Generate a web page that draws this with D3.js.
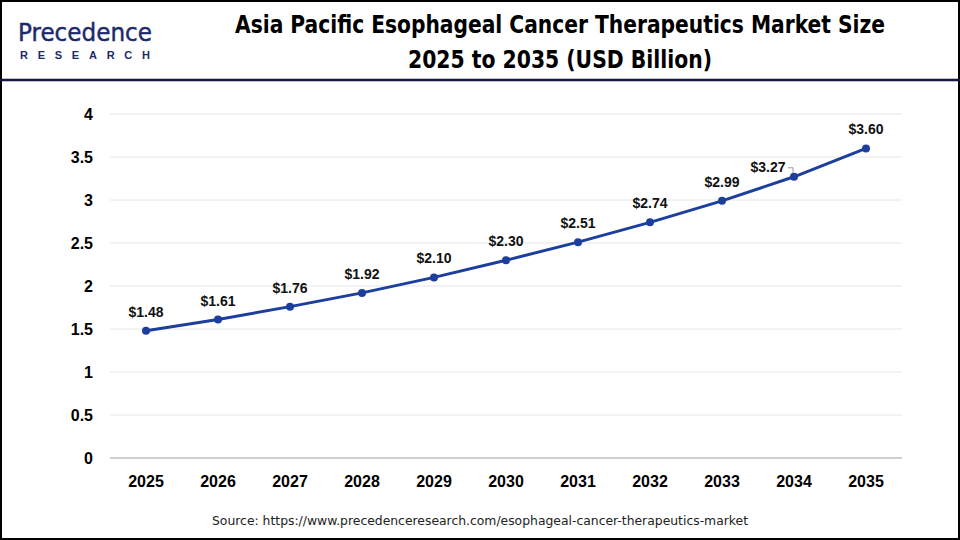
<!DOCTYPE html>
<html><head><meta charset="utf-8">
<script src="https://cdn.jsdelivr.net/npm/d3@7"></script>
<style>body{margin:0;background:#fff}svg{display:block}</style>
</head><body>
<svg id="c" width="960" height="540"></svg>
<script>
const years = ["2025","2026","2027","2028","2029","2030","2031","2032","2033","2034","2035"];
const values = [1.48,1.61,1.76,1.92,2.10,2.30,2.51,2.74,2.99,3.27,3.60];
const yTicks = [0,0.5,1,1.5,2,2.5,3,3.5,4];
const titleLines = ["Asia Pacific Esophageal Cancer Therapeutics Market Size","2025 to 2035 (USD Billion)"];
const titleWidths = [650,304];
const source = "Source: https://www.precedenceresearch.com/esophageal-cancer-therapeutics-market";

const svg = d3.select("#c");
svg.append("rect").attr("x",1).attr("y",1).attr("width",958).attr("height",538).attr("fill","#fff").attr("stroke","#000").attr("stroke-width",2);
svg.append("line").attr("x1",0).attr("x2",960).attr("y1",80).attr("y2",80).attr("stroke","#15173d").attr("stroke-width",2.5);

// logo
const logo = svg.append("g");
logo.append("text").attr("x",18).attr("y",41).attr("font-family","DejaVu Sans Condensed, sans-serif").attr("font-size",24).attr("fill","#1b2a6b")
  .attr("stroke","#1b2a6b").attr("stroke-width",0.4)
  .attr("textLength",134).attr("lengthAdjust","spacingAndGlyphs").text("Precedence");
logo.append("text").attr("x",20).attr("y",59).attr("font-family","Liberation Sans, sans-serif").attr("font-size",11).attr("font-weight","bold").attr("fill","#1b2a6b")
  .attr("textLength",130).attr("lengthAdjust","spacing").text("RESEARCH");

// title
svg.append("g").selectAll("text").data(titleLines).join("text")
  .attr("x",560).attr("y",(d,i)=>33+i*35).attr("text-anchor","middle")
  .attr("font-family","DejaVu Sans Condensed, sans-serif").attr("font-weight","bold").attr("font-size",24).attr("fill","#000")
  .attr("textLength",(d,i)=>titleWidths[i]).attr("lengthAdjust","spacingAndGlyphs").text(d=>d);

const x = d3.scaleBand().domain(years).range([110,902]);
const y = d3.scaleLinear().domain([0,4]).range([458,114]);

// grid
svg.append("g").selectAll("line").data(yTicks.filter(d=>d>0)).join("line")
  .attr("x1",110).attr("x2",902).attr("y1",d=>y(d)).attr("y2",d=>y(d)).attr("stroke","#e6e6e6").attr("stroke-width",1);
svg.append("line").attr("x1",110).attr("x2",902).attr("y1",y(0)).attr("y2",y(0)).attr("stroke","#bfbfbf").attr("stroke-width",1.5);

const yAxis = svg.append("g").attr("transform","translate(110,0)").call(d3.axisLeft(y).tickValues(yTicks).tickSize(0).tickPadding(17).tickFormat(d=>String(d)));
yAxis.select(".domain").remove();
yAxis.selectAll("text").attr("font-family","Liberation Sans, Arial, sans-serif").attr("font-weight","bold").attr("font-size",16).attr("fill","#000");

const xAxis = svg.append("g").attr("transform","translate(0,458)").call(d3.axisBottom(x).tickSize(0).tickPadding(18));
xAxis.select(".domain").remove();
xAxis.selectAll("text").attr("font-family","Liberation Sans, Arial, sans-serif").attr("font-weight","bold").attr("font-size",16).attr("fill","#000");

const cx = d=>x(d)+x.bandwidth()/2;
const line = d3.line().x((d,i)=>cx(years[i])).y(d=>y(d));
svg.append("path").datum(values).attr("d",line).attr("fill","none").attr("stroke","#1c3f9e").attr("stroke-width",3);
svg.append("g").selectAll("circle").data(values).join("circle")
  .attr("cx",(d,i)=>cx(years[i])).attr("cy",d=>y(d)).attr("r",4).attr("fill","#1c3f9e");

// labels
const lbl = svg.append("g");
values.forEach((v,i)=>{
  const px = cx(years[i]), py = y(v);
  let lx = px, ly = py-14;
  if (years[i]==="2034") {
    lx = px-26; ly = py-5;
    lbl.append("path").attr("d",`M${px-6},${py-9} H${px-1} V${py-4}`).attr("fill","none").attr("stroke","#999").attr("stroke-width",1);
  }
  lbl.append("text").attr("x",lx).attr("y",ly).attr("text-anchor","middle")
    .attr("font-family","Liberation Sans, Arial, sans-serif").attr("font-weight","bold").attr("font-size",14).attr("fill","#111")
    .text("$"+v.toFixed(2));
});

svg.append("text").attr("x",480).attr("y",525).attr("text-anchor","middle")
  .attr("font-family","DejaVu Sans, sans-serif").attr("font-size",12).attr("fill","#222")
  .attr("textLength",536).attr("lengthAdjust","spacingAndGlyphs").text(source);
</script>
</body></html>
